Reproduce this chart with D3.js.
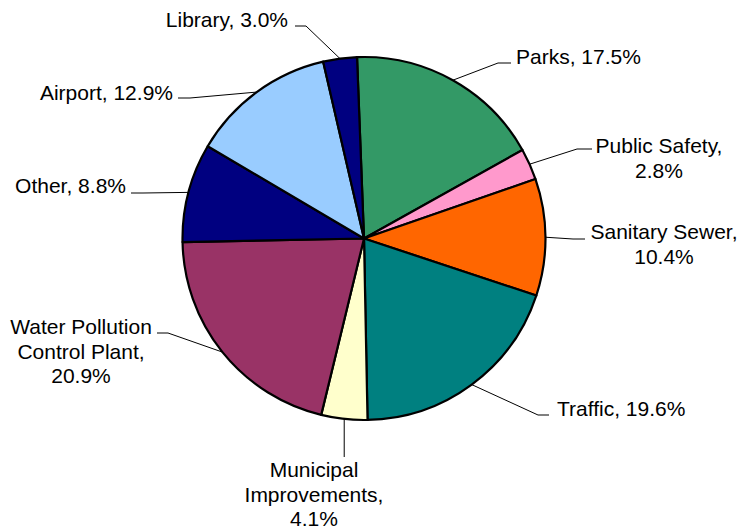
<!DOCTYPE html>
<html>
<head>
<meta charset="utf-8">
<script src="https://cdn.jsdelivr.net/npm/d3@7"></script>
<style>
  html, body { margin: 0; padding: 0; background: #fff; }
  svg { display: block; }
  text { font-family: "Liberation Sans", Arial, sans-serif; font-size: 21px; fill: #000; }
</style>
</head>
<body>
<svg id="chart" width="741" height="529"></svg>
<script>
// ---- data ----
const categories = ["Parks", "Public Safety", "Sanitary Sewer", "Traffic", "Municipal Improvements",
  "Water Pollution Control Plant", "Other", "Airport", "Library"];
const values = [17.5, 2.8, 10.4, 19.6, 4.1, 20.9, 8.8, 12.9, 3.0];
const colors = ["#339966", "#FF99CC", "#FF6600", "#008080", "#FFFFCC", "#993366", "#000080", "#99CCFF", "#000080"];

// ---- layout (label placement, not data) ----
// words per line, text anchor point, first baseline, leader horizontal segment (textSide -> elbow) at y
const labelLayout = [
  { lines: null,      anchor: "start",  x: 516, y: 64,  ly: 63,  tx: 511, ex: 498 },
  { lines: [2, 1],    anchor: "middle", x: 659, y: 153, ly: 149, tx: 592, ex: 577 },
  { lines: [2, 1],    anchor: "middle", x: 664, y: 239, ly: 239, tx: 585, ex: 573 },
  { lines: null,      anchor: "start",  x: 557, y: 416, ly: 415, tx: 549, ex: 538 },
  { lines: [1, 1, 1], anchor: "middle", x: 314, y: 477, vertical: true, vy: 457 },
  { lines: [2, 2, 1], anchor: "middle", x: 81,  y: 334, ly: 333, tx: 157, ex: 168 },
  { lines: null,      anchor: "end",    x: 126, y: 193, ly: 193, tx: 131, ex: 143 },
  { lines: null,      anchor: "end",    x: 173, y: 100, ly: 98,  tx: 178, ex: 190 },
  { lines: null,      anchor: "end",    x: 288, y: 27,  ly: 26,  tx: 295, ex: 306 }
];
const lineHeight = 24.5;

const svg = d3.select("#chart");
const cx = 364, cy = 238.5, r = 181.5;
const startOffset = -2.2 * Math.PI / 180;

const pie = d3.pie().sort(null).value(d => d.v)
  .startAngle(startOffset).endAngle(startOffset + 2 * Math.PI);
const data = categories.map((c, i) => ({ c, v: values[i], color: colors[i], layout: labelLayout[i] }));
const arcs = pie(data);
const arc = d3.arc().innerRadius(0).outerRadius(r);

const g = svg.append("g").attr("transform", `translate(${cx},${cy})`);
g.selectAll("path.slice").data(arcs).enter().append("path")
  .attr("class", "slice")
  .attr("d", arc)
  .attr("fill", d => d.data.color)
  .attr("stroke", "#000")
  .attr("stroke-width", 2.2)
  .attr("stroke-linejoin", "round");

// leader lines
const lg = svg.append("g");
arcs.forEach(a => {
  const L = a.data.layout;
  const mid = (a.startAngle + a.endAngle) / 2;
  const px = cx + r * Math.sin(mid), py = cy - r * Math.cos(mid);
  let pts;
  if (L.vertical) pts = [[px, py], [px, L.vy]];
  else pts = [[px, py], [L.ex, L.ly], [L.tx, L.ly]];
  lg.append("path")
    .attr("d", d3.line()(pts))
    .attr("fill", "none")
    .attr("stroke", "#000")
    .attr("stroke-width", 1);
});

// labels
const tg = svg.append("g");
arcs.forEach(a => {
  const L = a.data.layout;
  const full = `${a.data.c}, ${a.data.v.toFixed(1)}%`;
  const words = full.split(" ");
  let lines = [full];
  if (L.lines) {
    lines = []; let k = 0;
    L.lines.forEach(n => { lines.push(words.slice(k, k + n).join(" ")); k += n; });
  }
  const t = tg.append("text").attr("text-anchor", L.anchor);
  lines.forEach((ln, i) => {
    t.append("tspan").attr("x", L.x).attr("y", L.y + i * lineHeight).text(ln);
  });
});
</script>
</body>
</html>
